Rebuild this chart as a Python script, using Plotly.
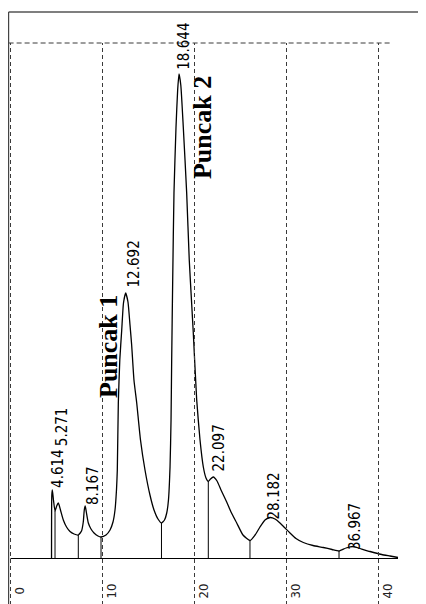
import plotly.graph_objects as go

# ---------------- data ----------------
time_min = [4.46, 4.49, 4.55, 4.67, 4.84, 5.02, 5.20, 5.43, 5.74, 6.09, 6.47, 6.91,
            7.37, 7.72, 7.91, 8.02, 8.12, 8.24, 8.46, 8.75, 9.08, 9.51, 9.84, 10.38,
            10.82, 11.14, 11.36, 11.52, 11.61, 11.72, 11.88, 12.09, 12.28, 12.52, 12.77,
            12.99, 13.17, 13.42, 13.72, 14.13, 14.62, 15.16, 15.60, 16.03, 16.41, 16.74,
            16.98, 17.17, 17.34, 17.45, 17.52, 17.63, 17.77, 17.99, 18.17, 18.32, 18.51,
            18.78, 19.15, 19.43, 19.70, 19.87, 20.24, 20.60, 20.96, 21.25, 21.50, 21.74,
            22.04, 22.45, 22.88, 23.50, 23.97, 24.59, 25.27, 26.03, 26.58, 27.12, 27.66,
            28.21, 28.75, 29.29, 29.84, 30.38, 31.03, 31.83, 32.88, 34.00, 34.95, 35.71,
            36.47, 37.26, 37.99, 39.08, 40.35, 41.25, 42.12]
signal = [0, 63.5, 68.5, 58.5, 47.5, 52.5, 55.5, 48.5, 38.5, 31.5, 27, 24.5,
          23.5, 27.5, 36.5, 48.5, 52.5, 46.5, 35.5, 29.5, 25.5, 22.5, 21.5, 23.5,
          28.5, 36.5, 48.5, 68.5, 88.5, 155.5, 198.5, 228.5, 255.5, 265.5, 256.5,
          233.5, 213.5, 178.5, 155.5, 118.5, 88.5, 63.5, 48.5, 39.5, 35.5, 38.5,
          45.5, 58.5, 91.5, 138.5, 198.5, 278.5, 365.5, 431.5, 468.5, 484.5, 473.5,
          431.5, 365.5, 298.5, 253.5, 225.5, 158.5, 118.5, 91.5, 80.5, 77, 79.5,
          81.5, 77.5, 68.5, 56.5, 46.5, 35.5, 23.5, 18, 23.5, 31.5, 38.5,
          41, 39.5, 35.5, 30.5, 25.5, 20, 16, 13, 11, 9, 7.5,
          10.5, 12, 10, 7, 4, 2.5, 1]

valley_time = [4.84, 7.37, 9.84, 16.41, 21.50, 26.03, 35.71]
valley_signal = [47.5, 23.5, 21.5, 35.5, 77, 18, 7.5]

peak_rt = [4.614, 5.271, 8.167, 12.692, 18.644, 22.097, 28.182, 36.967]
peak_signal = [68.5, 55.5, 52.5, 265.5, 484.5, 81.5, 41, 12]

named_peaks = ["Puncak 1", "Puncak 2"]
named_peak_rt = [12.692, 18.644]
named_peak_signal = [265.5, 484.5]

tick_values = [0, 10, 20, 30, 40]
tick_labels = ["0", "10", "20", "30", "40"]

# ---------------- layout / style ----------------
W, H = 426, 604
OFF = 8                      # page body margin offset
PX_PER_MIN = 9.2
X0_PX = 10.5 - OFF           # figure px of t = 0
BASE_PX = 558.5 - OFF        # figure px of signal = 0
x_range = [(0 - X0_PX) / PX_PER_MIN, (W - X0_PX) / PX_PER_MIN]
y_range = [BASE_PX - H, BASE_PX]


def tx(px_screen):
    return (px_screen - OFF - X0_PX) / PX_PER_MIN


def sy(py_screen):
    return BASE_PX - (py_screen - OFF)


label_shift = [(5, 22), (2.7, 76.5), (6.9, 20.5), (7.2, 29), (1.7, 28),
               (5.7, 29), (4.5, 21.2), (4.4, 19.5)]
name_shift = [(-19.3, -53), (20, -54)]

NARROW = "Liberation Sans Narrow, Arial Narrow, DejaVu Sans Condensed, sans-serif"
GRID_COL = "#3a3a3a"

fig = go.Figure()

fig.add_trace(go.Scatter(x=time_min, y=signal, mode="lines",
                         line=dict(color="black", width=1.3, shape="spline", smoothing=0.5),
                         hoverinfo="skip", showlegend=False))

dx, dy = [], []
for t, s in zip(valley_time, valley_signal):
    dx += [t, t, None]
    dy += [0, s, None]
fig.add_trace(go.Scatter(x=dx, y=dy, mode="lines", line=dict(color="black", width=1),
                         hoverinfo="skip", showlegend=False))

shapes = []
grid_top = sy(43)
left_t = tx(8.6)
for tv in tick_values:
    shapes.append(dict(type="line", xref="x", yref="y", x0=tv, x1=tv,
                       y0=y_range[0], y1=grid_top,
                       line=dict(color=GRID_COL, width=1, dash="4px,3px")))
shapes.append(dict(type="line", xref="x", yref="y", x0=left_t, x1=tx(392),
                   y0=grid_top, y1=grid_top,
                   line=dict(color=GRID_COL, width=1, dash="5px,3px")))
shapes.append(dict(type="line", xref="x", yref="y", x0=left_t, x1=x_range[1],
                   y0=sy(12), y1=sy(12), line=dict(color="#555555", width=1.5)))
shapes.append(dict(type="line", xref="x", yref="y", x0=left_t, x1=left_t,
                   y0=y_range[0], y1=sy(12), line=dict(color="#444444", width=1.2)))
shapes.append(dict(type="line", xref="x", yref="y", x0=0, x1=time_min[-1],
                   y0=0, y1=0, line=dict(color="black", width=1)))

annotations = []
for rt, s, (xs, ys) in zip(peak_rt, peak_signal, label_shift):
    annotations.append(dict(x=rt, y=s, xref="x", yref="y", text=f"{rt:.3f}",
                            showarrow=False, textangle=-90, xshift=xs, yshift=ys,
                            xanchor="center", yanchor="middle",
                            font=dict(family=NARROW, size=15, color="black")))
for name, rt, s, (xs, ys) in zip(named_peaks, named_peak_rt, named_peak_signal, name_shift):
    annotations.append(dict(x=rt, y=s, xref="x", yref="y", text=f"<b>{name}</b>",
                            showarrow=False, textangle=-90, xshift=xs, yshift=ys,
                            xanchor="center", yanchor="middle",
                            font=dict(family="Liberation Serif, Times New Roman, serif",
                                      size=26, color="black")))
for tv, tl in zip(tick_values, tick_labels):
    annotations.append(dict(x=tv, y=0, xref="x", yref="y", text=tl, showarrow=False,
                            textangle=-90, xshift=8, yshift=-32.5,
                            xanchor="center", yanchor="middle",
                            font=dict(family=NARROW, size=13, color="#222222")))

fig.update_layout(
    width=W, height=H, autosize=False,
    margin=dict(l=0, r=0, t=0, b=0),
    paper_bgcolor="white", plot_bgcolor="white",
    xaxis=dict(range=x_range, visible=False, fixedrange=True),
    yaxis=dict(range=y_range, visible=False, fixedrange=True),
    shapes=shapes, annotations=annotations,
)

fig.write_html("out.html")
